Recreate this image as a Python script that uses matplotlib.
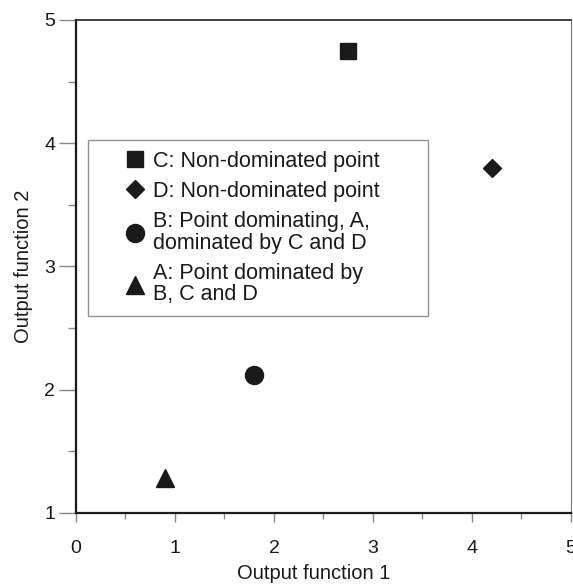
import matplotlib
matplotlib.use("Agg")
import matplotlib.pyplot as plt
from matplotlib.ticker import MultipleLocator

# ===================== 資料 =====================
labels = ["C: Non-dominated point",
          "D: Non-dominated point",
          "B: Point dominating, A,\ndominated by C and D",
          "A: Point dominated by\nB, C and D"]
markers = ["s", "D", "o", "^"]
msizes = [12, 9.5, 13, 13]
x_vals = [2.75, 4.2, 1.8, 0.9]
y_vals = [4.75, 3.8, 2.12, 1.28]
# =================================================

plt.rcParams['font.family'] = ['Liberation Sans', 'DejaVu Sans']

fig = plt.figure(figsize=(5.73, 5.84), dpi=100)
ax = fig.add_axes([0.1326, 0.1216, 0.8639, 0.8442])

for lab, m, ms, x, y in zip(labels, markers, msizes, x_vals, y_vals):
    ax.plot([x], [y], linestyle='none', marker=m, markersize=ms,
            color='#1a1a1a', label=lab)

ax.set_xlim(0, 5)
ax.set_ylim(1, 5)
ax.xaxis.set_major_locator(MultipleLocator(1))
ax.xaxis.set_minor_locator(MultipleLocator(0.5))
ax.yaxis.set_major_locator(MultipleLocator(1))
ax.yaxis.set_minor_locator(MultipleLocator(0.5))

ax.tick_params(axis='x', which='major', direction='out', length=6.5, width=1,
               color='#888888', labelsize=14, pad=13, labelcolor='#1a1a1a')
ax.tick_params(axis='x', which='minor', direction='out', length=4.5, width=1,
               color='#888888')
ax.tick_params(axis='y', which='major', direction='out', length=12, width=1,
               color='#888888', labelsize=14, pad=3, labelcolor='#1a1a1a')
ax.tick_params(axis='y', which='minor', direction='out', length=6, width=1,
               color='#888888')

for side in ['left', 'bottom']:
    ax.spines[side].set_linewidth(1.6)
    ax.spines[side].set_color('#1a1a1a')
ax.spines['top'].set_linewidth(1.3)
ax.spines['top'].set_color('#333333')
ax.spines['right'].set_linewidth(0.8)
ax.spines['right'].set_color('#777777')

ax.set_xlabel("Output function 1", fontsize=14.5, color='#1a1a1a')
ax.xaxis.set_label_coords(0.481, -0.104)
ax.set_ylabel("Output function 2", fontsize=14.5, color='#1a1a1a', labelpad=8)

# 圖例：框寬跟原圖一樣（expand），符號往右靠
leg = ax.legend(loc='upper left', bbox_to_anchor=(0.0242, 0.0, 0.687, 0.7566),
                mode='expand', borderaxespad=0, fontsize=15.5, frameon=True,
                fancybox=False, edgecolor='#777777', handlelength=3.36,
                handletextpad=-0.845, labelspacing=0.42, borderpad=0.5,
                numpoints=1)
leg.get_frame().set_linewidth(1.0)
for t in leg.get_texts():
    t.set_linespacing(1.05)
    t.set_color('#1a1a1a')

fig.savefig("out.png", dpi=100)
